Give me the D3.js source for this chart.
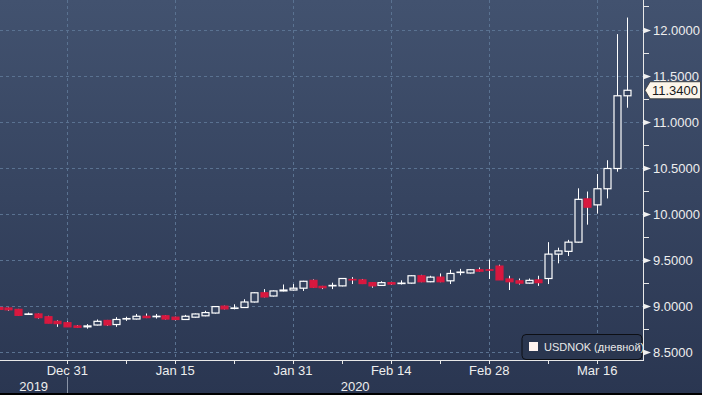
<!DOCTYPE html>
<html><head><meta charset="utf-8">
<script src="https://cdn.jsdelivr.net/npm/d3@7/dist/d3.min.js"></script>
<style>html,body{margin:0;padding:0;background:#2b3752;overflow:hidden}svg{display:block}</style>
</head><body>
<script>
const dates = ["2019-12-20","2019-12-23","2019-12-24","2019-12-25","2019-12-26","2019-12-27","2019-12-30","2019-12-31",
"2020-01-01","2020-01-02","2020-01-03","2020-01-06","2020-01-07","2020-01-08","2020-01-09","2020-01-10",
"2020-01-13","2020-01-14","2020-01-15","2020-01-16","2020-01-17","2020-01-20","2020-01-21","2020-01-22",
"2020-01-23","2020-01-24","2020-01-27","2020-01-28","2020-01-29","2020-01-30","2020-01-31",
"2020-02-03","2020-02-04","2020-02-05","2020-02-06","2020-02-07","2020-02-10","2020-02-11","2020-02-12",
"2020-02-13","2020-02-14","2020-02-17","2020-02-18","2020-02-19","2020-02-20","2020-02-21","2020-02-24",
"2020-02-25","2020-02-26","2020-02-27","2020-02-28","2020-03-02","2020-03-03","2020-03-04","2020-03-05",
"2020-03-06","2020-03-09","2020-03-10","2020-03-11","2020-03-12","2020-03-13","2020-03-16","2020-03-17",
"2020-03-18","2020-03-19"];
const open  = [8.98,8.975,8.96,8.905,8.91,8.88,8.83,8.815,8.78,8.77,8.79,8.84,8.795,8.855,8.855,8.885,8.88,8.89,8.875,8.85,8.875,8.89,8.92,8.995,8.97,8.98,9.04,9.14,9.105,9.16,9.17,9.19,9.275,9.21,9.215,9.215,9.285,9.28,9.25,9.22,9.25,9.24,9.245,9.325,9.26,9.31,9.27,9.36,9.355,9.39,9.39,9.43,9.29,9.27,9.245,9.28,9.295,9.56,9.59,9.69,10.16,10.095,10.27,10.49,11.28];
const high  = [8.99,8.98,8.965,8.925,8.915,8.89,8.84,8.83,8.79,8.80,8.85,8.845,8.875,8.88,8.91,8.915,8.91,8.895,8.88,8.90,8.915,8.945,8.995,9.0,9.015,9.07,9.145,9.18,9.165,9.23,9.235,9.27,9.285,9.215,9.25,9.30,9.31,9.29,9.255,9.265,9.26,9.275,9.33,9.335,9.325,9.35,9.39,9.40,9.395,9.415,9.50,9.445,9.325,9.295,9.295,9.325,9.69,9.63,9.715,10.275,10.24,10.43,10.58,11.95,12.13];
const low   = [8.95,8.945,8.89,8.90,8.86,8.81,8.77,8.77,8.76,8.75,8.785,8.78,8.77,8.835,8.85,8.865,8.86,8.85,8.84,8.845,8.87,8.885,8.915,8.96,8.96,8.975,9.035,9.09,9.10,9.155,9.165,9.16,9.195,9.18,9.18,9.21,9.235,9.235,9.195,9.215,9.225,9.23,9.24,9.255,9.255,9.255,9.235,9.33,9.35,9.37,9.29,9.28,9.17,9.23,9.24,9.215,9.235,9.46,9.54,9.685,9.88,10.0,10.165,10.455,11.15];
const close = [8.96,8.955,8.895,8.91,8.87,8.81,8.805,8.77,8.765,8.78,8.83,8.79,8.85,8.86,8.885,8.87,8.885,8.855,8.85,8.885,8.91,8.925,8.99,8.965,8.975,9.04,9.14,9.095,9.16,9.17,9.19,9.265,9.2,9.195,9.22,9.295,9.28,9.24,9.215,9.25,9.235,9.245,9.325,9.26,9.31,9.26,9.35,9.365,9.39,9.375,9.385,9.28,9.26,9.245,9.275,9.25,9.56,9.595,9.69,10.155,10.07,10.27,10.49,11.28,11.34];
const yTicks = [8.5,9.0,9.5,10.0,10.5,11.0,11.5,12.0];
const yMinor = [8.75,9.25,9.75,10.25,10.75,11.25,11.75,12.25];
const xTickDates = ["2019-12-31","2020-01-15","2020-01-31","2020-02-14","2020-02-28","2020-03-16"];
const xTickLabels = ["Dec 31","Jan 15","Jan 31","Feb 14","Feb 28","Mar 16"];
const xMinorDates = ["2020-01-08","2020-01-23","2020-02-07","2020-02-21","2020-03-09"];
const years = [{label:"2019", from:null, to:"2019-12-31"},{label:"2020", from:"2019-12-31", to:null}];
const seriesName = "USDNOK (дневной)";
const lastValue = close[close.length-1];

const W = 702, H = 395;
const plotR = 643, plotB = 360;
const svg = d3.select("body").append("svg").attr("width", W).attr("height", H);
const defs = svg.append("defs");
const grad = defs.append("linearGradient").attr("id","bg").attr("x1",0).attr("y1",0).attr("x2",0).attr("y2",1);
grad.append("stop").attr("offset","0%").attr("stop-color","#42526f");
grad.append("stop").attr("offset","100%").attr("stop-color","#2a3651");
svg.append("rect").attr("width",W).attr("height",H).attr("fill","url(#bg)");

const idx = new Map(dates.map((d,i)=>[d,i]));
const x = d3.scaleLinear().domain([0.144, 65.66]).range([0, plotR]);
const y = d3.scaleLinear().domain([8.5, 12]).range([351.7, 29.5]);

const font = "'Liberation Sans', Arial, sans-serif";
// grid
const grid = svg.append("g").attr("stroke","#5a7291").attr("stroke-width",1).attr("stroke-dasharray","3,3");
yTicks.forEach(v=>grid.append("line").attr("x1",0).attr("x2",plotR).attr("y1",Math.round(y(v))+0.5).attr("y2",Math.round(y(v))+0.5));
xTickDates.forEach(d=>grid.append("line").attr("x1",Math.round(x(idx.get(d)))+0.5).attr("x2",Math.round(x(idx.get(d)))+0.5).attr("y1",0).attr("y2",plotB));

// candles
const bw = 7;
const g = svg.append("g");
const data = dates.map((d,i)=>({d,i,o:open[i],h:high[i],l:low[i],c:close[i]}));
const red = "#d8183f";
g.selectAll("line.wick").data(data).join("line")
  .attr("x1",d=>Math.round(x(d.i))+0.5).attr("x2",d=>Math.round(x(d.i))+0.5)
  .attr("y1",d=>y(d.h)).attr("y2",d=>y(d.l))
  .attr("stroke","#ffffff").attr("stroke-width",1);
g.selectAll("rect.body").data(data).join("rect")
  .attr("x",d=>Math.round(x(d.i))-bw/2+0.5)
  .attr("y",d=>y(Math.max(d.o,d.c)))
  .attr("width",bw)
  .attr("height",d=>Math.max(0.01, Math.abs(y(d.o)-y(d.c))))
  .attr("fill",d=>d.c<d.o?red:"#34425e")
  .attr("stroke",d=>d.c<d.o?red:"#ffffff")
  .attr("stroke-width",1.2);

// axes lines
svg.append("line").attr("x1",plotR+0.5).attr("x2",plotR+0.5).attr("y1",0).attr("y2",plotB).attr("stroke","#e8e8e8");
svg.append("line").attr("x1",0).attr("x2",plotR+1).attr("y1",plotB+0.5).attr("y2",plotB+0.5).attr("stroke","#e8e8e8");

// y ticks
const ya = svg.append("g");
yMinor.forEach(v=>ya.append("line").attr("x1",plotR).attr("x2",plotR+6).attr("y1",Math.round(y(v))+0.5).attr("y2",Math.round(y(v))+0.5).attr("stroke","#e8e8e8"));
yTicks.forEach(v=>{
  const yy = Math.round(y(v))+0.5;
  ya.append("path").attr("d",`M${plotR},${yy-3}L${plotR+8},${yy}L${plotR},${yy+3}Z`).attr("fill","#f0f0f0");
  ya.append("text").attr("x",653).attr("y",yy+4.5).attr("fill","#eeeeee").attr("font-family",font).attr("font-size","13px").text(d3.format(".4f")(v));
});

// x ticks
const xa = svg.append("g");
xTickDates.concat(xMinorDates).forEach(d=>{
  const xx = Math.round(x(idx.get(d)))+0.5;
  xa.append("line").attr("x1",xx).attr("x2",xx).attr("y1",plotB).attr("y2",plotB+4).attr("stroke","#e8e8e8");
});
xTickDates.forEach((d,k)=>{
  xa.append("text").attr("x",x(idx.get(d))).attr("y",375).attr("text-anchor","middle").attr("fill","#eeeeee")
    .attr("font-family",font).attr("font-size","13px").text(xTickLabels[k]);
});
// years
const sepX = Math.round(x(idx.get("2019-12-31")))+0.5;
svg.append("line").attr("x1",sepX).attr("x2",sepX).attr("y1",377).attr("y2",393).attr("stroke","#8993a6");
years.forEach(yr=>{
  const x0 = yr.from? x(idx.get(yr.from)) : 0;
  const x1 = yr.to? x(idx.get(yr.to)) : plotR;
  svg.append("text").attr("x",(x0+x1)/2).attr("y",391).attr("text-anchor","middle").attr("fill","#eeeeee")
    .attr("font-family",font).attr("font-size","13px").text(yr.label);
});
svg.append("rect").attr("x",0).attr("y",393).attr("width",W).attr("height",2).attr("fill","#000");

// last value label
const ly = y(lastValue);
svg.append("path").attr("d",`M645,${ly}L650,${ly-8.5}H700.5V${ly+8.5}H650Z`).attr("fill","#fcf5ea").attr("stroke","#333").attr("stroke-width",0.8);
svg.append("text").attr("x",652).attr("y",ly+4.5).attr("fill","#1a1a1a").attr("font-family",font).attr("font-size","13px").text(d3.format(".4f")(lastValue));

// legend
const lg = svg.append("g");
lg.append("rect").attr("x",522).attr("y",334.5).attr("width",120).attr("height",25).attr("rx",4)
  .attr("fill","#2a364f").attr("stroke","#0d0f14").attr("stroke-width",1);
lg.append("rect").attr("x",529).attr("y",342).attr("width",9).attr("height",9).attr("fill","#fff4f0");
lg.append("text").attr("x",544).attr("y",351).attr("fill","#e8e8e8").attr("font-family",font).attr("font-size","11px").text(seriesName);
</script>
</body></html>
